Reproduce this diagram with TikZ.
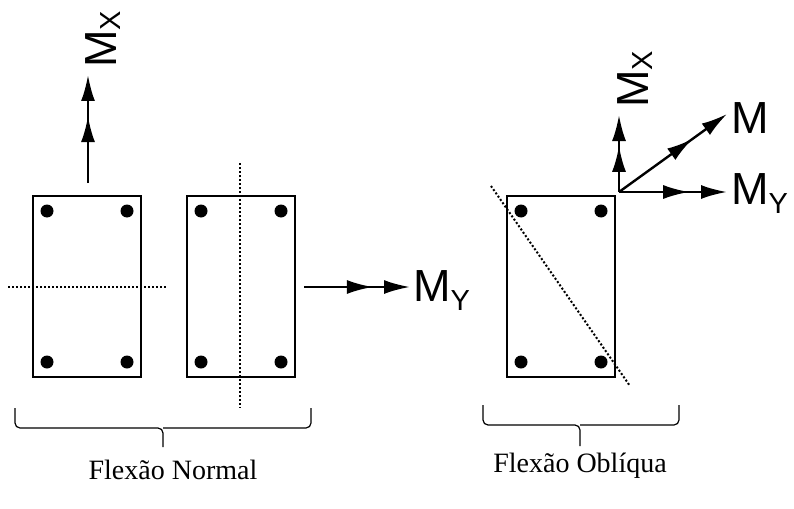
\documentclass[tikz,border=0pt]{standalone}
\usepackage{fontspec}
\setmainfont{Liberation Serif}
\newfontfamily\arial{Liberation Sans}
\usetikzlibrary{arrows.meta,decorations.markings}
\begin{document}
\begin{tikzpicture}[x=1pt,y=-1pt,
  sec/.style={draw,line width=1.4pt},
  bar/.style={fill=black,circle,inner sep=0pt,minimum size=13pt},
  cut/.style={line width=2pt,dotted},
  darr/.style={line width=2.4pt,-{Latex[length=26pt,width=14pt]},
    postaction={decorate},decoration={markings,mark=at position #1 with {\arrow{Latex[length=26pt,width=14pt]}}}},
  mlab/.style={font=\arial\fontsize{45}{45}\selectfont,inner sep=0pt},
  captext/.style={font=\fontsize{28}{28}\selectfont,inner sep=0pt},
  brace/.style={line width=1.2pt,rounded corners=5pt}]
\useasboundingbox (0,0) rectangle (794,508);
% section 1
\node[sec,minimum width=108pt,minimum height=181pt,inner sep=0pt] (s1) at (87,286.5) {};
\foreach \x/\y [count=\i] in {47/211,127/211,47/362,127/362}{\node[bar] (a\i) at (\x,\y) {};}
\coordinate (h1) at (8,287); \coordinate (h2) at (167,287);
\draw[cut] (h1) -- (h2);
\coordinate (x0) at (88,183); \coordinate (x1) at (88,75);
\draw[darr=0.62] (x0) -- (x1);
\node[mlab,rotate=90,anchor=west] (mx1) at (103,68) {M\raisebox{-0.1em}{\fontsize{29}{29}\selectfont X}};
% section 2
\node[sec,minimum width=108pt,minimum height=181pt,inner sep=0pt] (s2) at (241,286.5) {};
\foreach \x/\y [count=\i] in {201/211,281/211,201/362,281/362}{\node[bar] (b\i) at (\x,\y) {};}
\coordinate (v1) at (240,163); \coordinate (v2) at (240,408);
\draw[cut] (v1) -- (v2);
\coordinate (y0) at (304,287); \coordinate (y1) at (410,287);
\draw[darr=0.65] (y0) -- (y1);
\node[mlab,anchor=west] (my1) at (413,291) {M\raisebox{-0.2em}{\fontsize{29}{29}\selectfont Y}};
% brace 1
\draw[brace] (15,408) -- (15,428) -- (163,428) -- (163,447);
\draw[brace] (311,408) -- (311,428) -- (163,428);
\node[captext] (c1) at (173,470) {Flexão Normal};
% section 3
\node[sec,minimum width=108pt,minimum height=181pt,inner sep=0pt] (s3) at (561,286.5) {};
\foreach \x/\y [count=\i] in {521/211,601/211,521/362,601/362}{\node[bar] (c\i) at (\x,\y) {};}
\coordinate (d1) at (491,186); \coordinate (d2) at (630,386);
\draw[cut] (d1) -- (d2);
\coordinate (o) at (619,192);
\coordinate (ox) at (619,115); \coordinate (oy) at (727,192); \coordinate (om) at (727,114);
\draw[darr=0.6] (o) -- (ox);
\draw[darr=0.65] (o) -- (oy);
\draw[darr=0.68] (o) -- (om);
\node[mlab,rotate=90,anchor=west] (mx2) at (635,108) {M\raisebox{-0.1em}{\fontsize{29}{29}\selectfont X}};
\node[mlab,anchor=west] (my2) at (731,194) {M\raisebox{-0.2em}{\fontsize{29}{29}\selectfont Y}};
\node[mlab,anchor=west] (m) at (731,118) {M};
% brace 2
\draw[brace] (483,405) -- (483,425) -- (580,425) -- (580,446);
\draw[brace] (679,405) -- (679,425) -- (580,425);
\node[captext] (c2) at (580,466) {Flexão Oblíqua};
\end{tikzpicture}
\end{document}
